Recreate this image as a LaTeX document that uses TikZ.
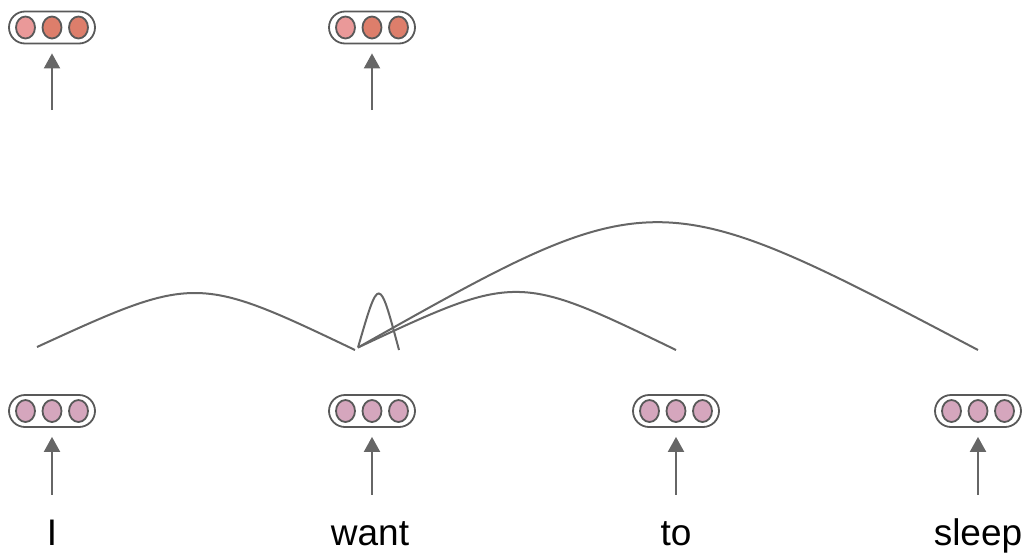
\documentclass[tikz,border=0pt]{standalone}
\usepackage{fontspec}
\setmainfont{Liberation Sans}
\usetikzlibrary{arrows.meta,shapes.geometric,calc}
\definecolor{linec}{HTML}{666666}
\definecolor{rimc}{HTML}{595959}
\definecolor{embc}{HTML}{D5A6BD}
\definecolor{outa}{HTML}{EA9999}
\definecolor{outb}{HTML}{DD7E6B}
\tikzset{
  vecbox/.style={draw=rimc, line width=1.8pt, rounded corners=16pt,
    minimum width=86pt, minimum height=32pt, inner sep=0pt},
  unit/.style={ellipse, draw=rimc, line width=1.8pt, minimum width=19pt,
    minimum height=22pt, inner sep=0pt},
  feed/.style={-{Triangle[width=16pt,length=15pt]}, line width=2pt, draw=linec},
  attn/.style={line width=2pt, draw=linec},
  word/.style={font=\fontsize{37}{40}\selectfont, anchor=base, inner sep=0pt,
    text height=27pt, text depth=8pt}
}
% a vector: rounded box holding three units
\newcommand\wordvec[6]{%
  \node[vecbox] (#1) at (#2,#3) {};
  \node[unit, fill=#4] (#1-1) at ($(#1)+(-26.5,0)$) {};
  \node[unit, fill=#5] (#1-2) at (#1) {};
  \node[unit, fill=#6] (#1-3) at ($(#1)+(26.5,0)$) {};
}
\begin{document}
\begin{tikzpicture}[x=1pt,y=-1pt]
\useasboundingbox (0,0) rectangle (1028,552);

% input words
\node[word] (tI) at (52,545) {I};
\node[word] (tW) at (370,545) {want};
\node[word] (tT) at (676,545) {to};
\node[word] (tS) at (978,545) {sleep};

% embeddings
\wordvec{vI}{52}{411}{embc}{embc}{embc}
\wordvec{vW}{372}{411}{embc}{embc}{embc}
\wordvec{vT}{676}{411}{embc}{embc}{embc}
\wordvec{vS}{978}{411}{embc}{embc}{embc}

% outputs
\wordvec{oI}{52}{27.5}{outa}{outb}{outb}
\wordvec{oW}{372}{27.5}{outa}{outb}{outb}

% input arrows
\draw[feed, shorten <=23pt, shorten >=9pt] (tI) -- (vI);
\draw[feed, shorten <=23pt, shorten >=9pt] (tW.north -| vW) -- (vW);
\draw[feed, shorten <=23pt, shorten >=9pt] (tT) -- (vT);
\draw[feed, shorten <=23pt, shorten >=9pt] (tS) -- (vS);

% output arrows
\coordinate (fI) at (52,110);
\coordinate (fW) at (372,110);
\draw[feed, shorten >=9pt] (fI) -- (oI);
\draw[feed, shorten >=9pt] (fW) -- (oW);

% attention arcs
\coordinate (a1s) at (37,347);
\coordinate (a1e) at (355,350);
\coordinate (ws) at (358,347.5);
\coordinate (a2e) at (676,350);
\coordinate (a3e) at (978,350);
\coordinate (a4e) at (399,350);
\draw[attn] (a1s) .. controls (195,274.5) and (197,274.5) .. (a1e);
\draw[attn] (ws) .. controls (517,273) .. (a2e);
\draw[attn] (ws) .. controls (655,180) .. (a3e);
\draw[attn] (ws) .. controls (379,275) .. (a4e);
\end{tikzpicture}
\end{document}
